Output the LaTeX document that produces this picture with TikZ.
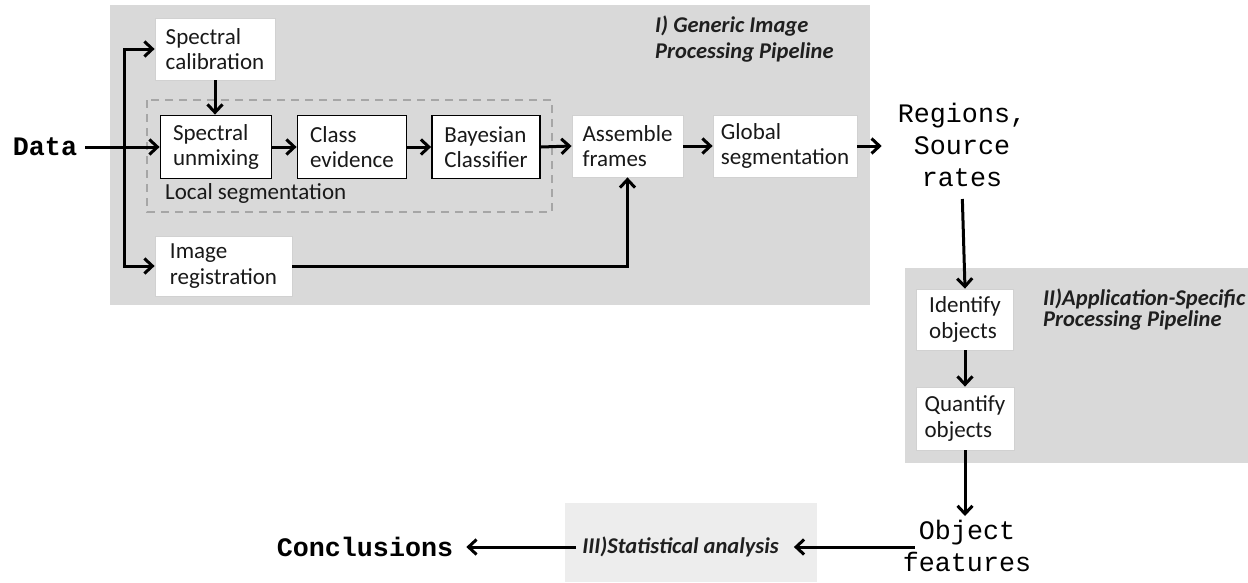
\documentclass[tikz,border=0pt]{standalone}
\usepackage{fontspec}
\setmainfont{Carlito}
\newfontfamily\monof{Liberation Mono}
\usetikzlibrary{arrows.meta}
\begin{document}
\begin{tikzpicture}[x=1pt,y=-1pt,
  txt/.style={font=\fontsize{23}{25.5}\selectfont,text=black!90},
  box/.style={txt,draw=black,line width=1.8pt,fill=white,align=left,inner sep=0pt},
  wbox/.style={txt,draw=black!18,line width=0.8pt,fill=white,align=left,inner sep=0pt},
  arr/.style={line width=3pt,-{Straight Barb[length=8pt,width=15pt]}},
  ttl/.style={font=\fontsize{22.5}{26}\selectfont\bfseries\itshape,text=black!88,align=left,anchor=north west,inner sep=0pt},
  mono/.style={font=\fontsize{26.7}{32}\selectfont\monof,align=center,inner sep=0pt},
  monob/.style={font=\fontsize{26.7}{32}\selectfont\monof\bfseries,inner sep=0pt},
  panel/.style={fill=black!15},
]
\useasboundingbox (0,0) rectangle (1248,582);
% panels
\fill[panel] (110,5) rectangle (870,305);
\fill[panel] (905,268) rectangle (1248,463);
\fill[black!7] (565,503) rectangle (817,582);
% local segmentation frame
\draw[black!35,line width=1.2pt,dash pattern=on 8pt off 6pt] (147,100) rectangle (552,212);
\node[txt,anchor=west,inner sep=0pt] (locl) at (165,193) {Local segmentation};
% titles
\node[ttl] (t1) at (655,16) {I) Generic Image\\Processing Pipeline};
\node[ttl,font=\fontsize{22.5}{21}\selectfont\bfseries\itshape] (t2) at (1043,289) {II)Application-Specific\\Processing Pipeline};
% boxes
\node[wbox,minimum width=120,minimum height=62] (cal) at (215,49) {Spectral\\calibration};
\node[box,minimum width=111,minimum height=63] (unmix) at (216,147) {Spectral\\unmixing};
\node[box,minimum width=109,minimum height=63] (cls) at (352,147) {Class\\evidence};
\node[box,minimum width=108,minimum height=63] (bay) at (486,147) {Bayesian\\Classifier};
\node[wbox,minimum width=111,minimum height=62] (asm) at (627.5,146) {Assemble\\frames};
\node[wbox,minimum width=144,minimum height=62] (glob) at (785,146) {Global\\segmentation};
\node[wbox,minimum width=137,minimum height=60] (reg) at (223.5,266) {Image\\registration};
\node[wbox,minimum width=97,minimum height=61] (ident) at (965,319.5) {Identify\\objects};
\node[wbox,minimum width=98,minimum height=63] (quant) at (965,418.5) {Quantify\\objects};
% terminal texts
\node[monob] (data) at (45,147) {Data};
\node[mono] (rgn) at (962,145) {Regions,\\Source\\rates};
\node[mono] (obj) at (967,546) {Object\\features};
\node[monob] (concl) at (365,547) {Conclusions};
\node[font=\fontsize{22.5}{25}\selectfont\bfseries\itshape,text=black!88,inner sep=0pt] (stat) at (680.5,547) {III)Statistical analysis};
% connectors
\coordinate (split) at (124,147);
\draw[arr,shorten <=8pt] (data.east) -- (unmix.west);
\draw[arr] (split) |- (cal.west);
\draw[arr] (split) |- (reg.west);
\draw[arr] (cal.south) -- (cal.south |- unmix.north);
\draw[arr] (unmix.east) -- (cls.west);
\draw[arr] (cls.east) -- (bay.west);
\draw[arr] (bay.east) -- (asm.west);
\draw[arr] (asm.east) -- (glob.east -| glob.west);
\draw[arr] (reg.east) -| (asm.south);
\draw[arr,shorten >=16pt] (glob.east) -- (glob.east -| rgn.west);
\draw[arr,shorten <=12pt] (rgn.south) -- (ident.north);
\draw[arr] (ident.south) -- (quant.north);
\draw[arr,shorten >=4pt] (quant.south) -- (quant.south |- obj.north);
\draw[arr,shorten <=-12pt,shorten >=15pt] (obj.west |- stat.east) -- (stat.east);
\draw[arr,shorten <=6pt,shorten >=13pt] (stat.west) -- (concl.east);
\end{tikzpicture}
\end{document}
